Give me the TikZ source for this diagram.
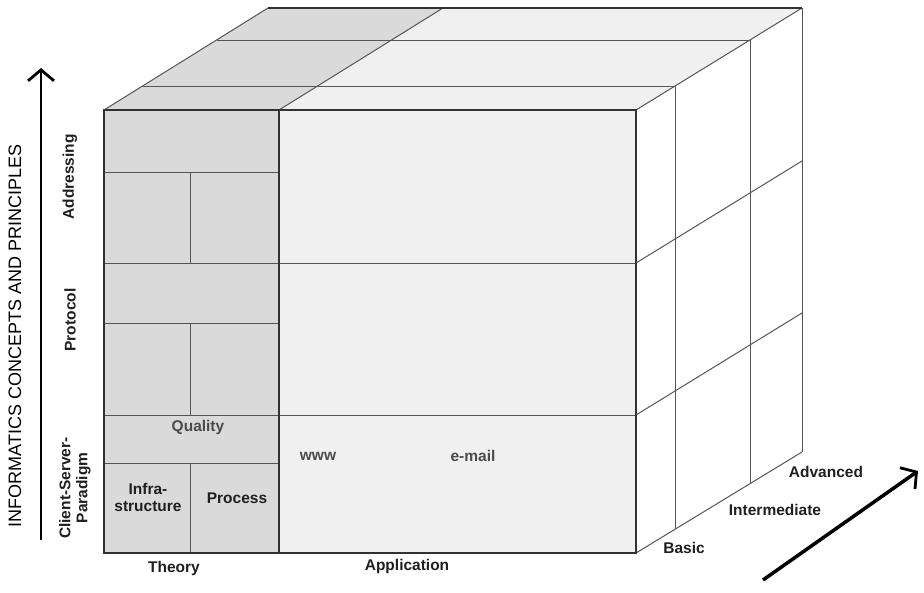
\documentclass[tikz,border=0pt]{standalone}
\usepackage{fontspec}
\setmainfont{Liberation Sans}
\usetikzlibrary{arrows.meta,calc}
\definecolor{theorygray}{RGB}{218,218,218}
\definecolor{appgray}{RGB}{240,240,240}
\definecolor{edgegray}{RGB}{50,50,50}
\definecolor{linegray}{RGB}{85,85,85}
\definecolor{labelgray}{RGB}{75,75,75}

\begin{document}
\begin{tikzpicture}[x=1pt, y=-1pt,
  frame/.style={draw=edgegray, line width=1.6pt},
  gridline/.style={draw=linegray, line width=1pt},
  lbl/.style={font=\bfseries\fontsize{15.5}{17}\selectfont, text=black!88, align=center, inner sep=1pt},
  soft/.style={lbl, text=labelgray},
  axis/.style={draw=black, line width=2.2pt, -{Straight Barb[length=11pt, width=26pt, line width=2.8pt]}}]
\useasboundingbox (0,0) rectangle (924,592);

% faces
\fill[theorygray] (104,110) -- (268,8) -- (443,8) -- (279,110) -- cycle;
\fill[appgray] (279,110) -- (443,8) -- (802,8) -- (636,110) -- cycle;
\fill[theorygray] (104,110) rectangle (279,553);
\fill[appgray] (279,110) rectangle (636,553);

% top face
\draw[gridline] (104,110) -- (268,8);
\draw[gridline] (279,110) -- (443,8);
\draw[gridline] (636,110) -- (802,8);
\draw[gridline] (143,86) -- (675,86);
\draw[gridline] (217,40) -- (750,40);
\draw[frame] (268,8) -- (802,8);

% right face
\draw[gridline] (675,86) -- (675,529);
\draw[gridline] (750,40) -- (750,484);
\draw[gridline] (802,8) -- (802,452);
\draw[gridline] (636,263) -- (802,161);
\draw[gridline] (636,415) -- (802,313);
\draw[gridline] (636,553) -- (802,452);

% front face
\draw[gridline] (104,263) -- (636,263);
\draw[gridline] (104,415) -- (636,415);
\foreach \y in {172,323,463} \draw[gridline] (104,\y) -- (279,\y);
\draw[gridline] (190,172) -- (190,263);
\draw[gridline] (190,323) -- (190,415);
\draw[gridline] (190,463) -- (190,553);
\draw[frame] (104,110) rectangle (636,553);
\draw[frame] (279,110) -- (279,553);

% cell labels
\node[soft] (quality) at (198,427) {Quality};
\node[lbl] (infra) at (148,497) {Infra-\\structure};
\node[lbl] (process) at (237,498) {Process};
\node[soft] (www) at (318,456) {www};
\node[soft] (email) at (473,456) {e-mail};

% axis labels
\node[lbl] (theory) at (174,568) {Theory};
\node[lbl] (application) at (407,566) {Application};
\node[lbl] (basic) at (684,548) {Basic};
\node[lbl] (intermediate) at (775,510) {Intermediate};
\node[lbl] (advanced) at (826,472) {Advanced};
\node[lbl, rotate=90] (csp) at (75,488) {Client-Server-\\Paradigm};
\node[lbl, rotate=90] (protocol) at (70,320) {Protocol};
\node[lbl, rotate=90] (addressing) at (70,177) {Addressing};
\node[font=\fontsize{18}{20}\selectfont, rotate=90, inner sep=1pt] (concepts) at (15,336) {INFORMATICS CONCEPTS AND PRINCIPLES};

% arrows
\coordinate (upstart) at (41,540);
\coordinate (upend) at (41,68);
\coordinate (levstart) at (763,580);
\coordinate (levend) at (918,471);
\draw[axis] (upstart) -- (upend);
\draw[axis, line width=3.5pt] (levstart) -- (levend);
\end{tikzpicture}
\end{document}
